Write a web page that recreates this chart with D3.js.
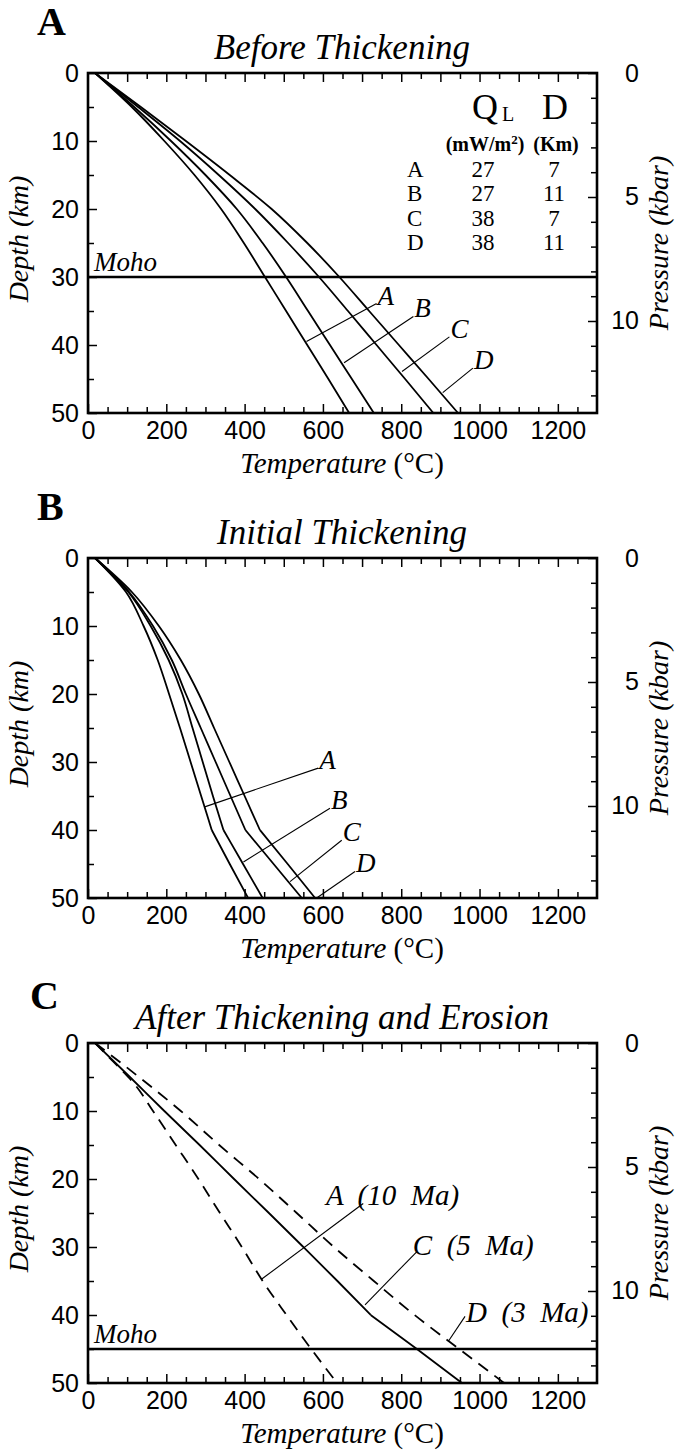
<!DOCTYPE html>
<html><head><meta charset="utf-8">
<script src="https://cdn.jsdelivr.net/npm/d3@7"></script>
<style>body{margin:0;background:#fff}svg{display:block}</style>
</head><body>
<svg id="chart" width="677" height="1452"></svg>
<script>
// ---------- DATA ----------
const depthStd = [0,5,10,15,20,25,30,35,40,45,50];
// Panel A: Before Thickening (Temperature °C at each depth)
const beforeA = [18,112,195,272,340,398,452,506,560,614,667];
const beforeB = [18,118,212,300,380,446,506,562,618,674,730];
const beforeC = [18,128,235,334,427,511,590,664,737,810,882];
const beforeD = [18,135,250,362,469,560,642,718,794,870,945];
// Panel B: Initial Thickening
const initA = [18,97,142,178,207,235,262,289,316,362,409];
const initB = [18,103,160,206,241,267,293,319,346,396,446];
const initC = [18,105,166,214,250,288,326,364,402,474,546];
const initD = [18,112,181,237,283,322,361,400,439,510,580];
// Panel C: After Thickening and Erosion
const erosionSolidC = [18,107,195,285,373,462,550,637,722,840,955];
const erosionDepthA = [0,2,4,6,10,15,20,25,30,35,40,45,50];
const erosionDashA  = [18,52,86,118,166,224,282,337,393,446,507,570,636];
const erosionDepthD = [0,3,5,10,15,20,25,30,35,40,45,50];
const erosionDashD  = [18,86,130,237,335,437,533,628,730,834,948,1063];
// Axis ticks
const tempTicks = [0,200,400,600,800,1000,1200];
const depthTicks = [0,10,20,30,40,50];
const pressTicks = [0,5,10];
// Legend table (panel A)
const legendRows = ["A","B","C","D"];
const legendQ = ["27","27","38","38"];
const legendD = ["7","11","7","11"];
// Leader lines [T1,d1,T2,d2] and labels
const leadersA = [[558,39.5,737,33.9,"A"],[654,42.6,831,35.8,"B"],[802,43.9,923,38.8,"C"],[906,47,983,43.4,"D"]];
const leadersB = [[298,36.6,588,30.9,"A"],[397,44.7,618,36.8,"B"],[516,47.6,648,41.5,"C"],[584,50,682,46.1,"D"]];
const leadersC = [[443,34.75,703,23.6,605,23.7,"A  (10  Ma)"],[707.5,38.5,839.5,30.7,827,31.0,"C  (5  Ma)"],[920,43.9,963,40.2,963,40.9,"D  (3  Ma)"]];

// ---------- DRAW ----------
const svg = d3.select("#chart");
const serif = "'Liberation Serif','Times New Roman',serif";
const sans = "'Liberation Sans',Arial,Helvetica,sans-serif";
const x = d3.scaleLinear().domain([0,1300]).range([88,597]);
const H = 340;
const KM_PER_KBAR = 3.647;
const fmt = d3.format("d");

function panel(top, letter, title, curves, opts){
  const g = svg.append("g");
  const y = d3.scaleLinear().domain([0,50]).range([top, top+H]);
  const p = d3.scaleLinear().domain([0,50/KM_PER_KBAR]).range([top, top+H]);

  const tickStyle = sel => { sel.select(".domain").remove(); sel.selectAll("line").attr("stroke","#000").attr("stroke-width",1.5); };
  const lab = s => s.selectAll("text").attr("font-family",sans).attr("font-size",25).attr("fill","#000");
  // bottom
  g.append("g").attr("transform",`translate(0,${top+H})`)
    .call(d3.axisBottom(x).tickValues(d3.range(50,1300,50).filter(v=>v%200!==0)).tickSize(-6).tickFormat(""))
    .call(tickStyle);
  g.append("g").attr("transform",`translate(0,${top+H})`)
    .call(d3.axisBottom(x).tickValues(tempTicks).tickSize(-9).tickPadding(8).tickFormat(fmt))
    .call(tickStyle).call(lab);
  // top
  g.append("g").attr("transform",`translate(0,${top})`)
    .call(d3.axisTop(x).tickValues(d3.range(50,1300,50)).tickSize(0).tickFormat(""))
    .call(tickStyle)
    .call(s=>s.selectAll(".tick line").attr("y2",d=>d%100===0?9:6));
  // left
  g.append("g").attr("transform",`translate(${x(0)},0)`)
    .call(d3.axisLeft(y).tickValues(d3.range(5,50,10)).tickSize(-6).tickFormat(""))
    .call(tickStyle);
  g.append("g").attr("transform",`translate(${x(0)},0)`)
    .call(d3.axisLeft(y).tickValues(depthTicks).tickSize(-9).tickPadding(9).tickFormat(fmt))
    .call(tickStyle).call(lab);
  // right
  g.append("g").attr("transform",`translate(${x(1300)},0)`)
    .call(d3.axisRight(p).tickValues(d3.range(1,14).filter(v=>v%5!==0)).tickSize(-6).tickFormat(""))
    .call(tickStyle);
  g.append("g").attr("transform",`translate(${x(1300)},0)`)
    .call(d3.axisRight(p).tickValues(pressTicks).tickSize(-9).tickPadding(42).tickFormat(fmt))
    .call(tickStyle).call(lab)
    .call(s=>s.selectAll("text").attr("text-anchor","end"));

  // frame
  g.append("rect").attr("x",x(0)).attr("y",top).attr("width",x(1300)-x(0)).attr("height",H)
    .attr("fill","none").attr("stroke","#000").attr("stroke-width",2.6);

  // curves
  const smooth = d3.line().x(d=>x(d[0])).y(d=>y(d[1])).curve(d3.curveMonotoneY);
  const straight = d3.line().x(d=>x(d[0])).y(d=>y(d[1]));
  curves.forEach(c=>{
    const pts = c.depth.map((d,i)=>[c.temp[i],d]);
    let segs = [pts];
    if(c.kink!==undefined){
      const k = c.depth.indexOf(c.kink);
      segs = [pts.slice(0,k+1), pts.slice(k)];
    }
    segs.forEach(sg=>{
      g.append("path").attr("d", (sg.length>2?smooth:straight)(sg))
        .attr("fill","none").attr("stroke","#000").attr("stroke-width",1.8)
        .attr("stroke-dasharray", c.dash?"12,8":null);
    });
  });

  // Moho
  if(opts.moho!==undefined){
    g.append("line").attr("x1",x(0)).attr("x2",x(1300)).attr("y1",y(opts.moho)).attr("y2",y(opts.moho))
      .attr("stroke","#000").attr("stroke-width",2.6);
    g.append("text").attr("x",x(0)+6).attr("y",y(opts.moho)-6).text("Moho")
      .attr("font-family",serif).attr("font-style","italic").attr("font-size",27);
  }

  // leaders
  opts.leaders.forEach(L=>{
    g.append("line").attr("x1",x(L[0])).attr("y1",y(L[1])).attr("x2",x(L[2])).attr("y2",y(L[3]))
      .attr("stroke","#000").attr("stroke-width",1.1);
    const lx = L.length>5?L[4]:L[2], ly = L.length>5?L[5]:L[3], txt = L[L.length-1];
    g.append("text").attr("x",x(lx)+1).attr("y",y(ly)+1).text(txt)
      .attr("font-family",serif).attr("font-style","italic").attr("font-size",opts.labelSize||27)
      .style("white-space","pre");
  });

  // titles & axis labels
  g.append("text").attr("x",opts.letterX||37).attr("y",top-38+(opts.letterDy||0)).text(letter)
    .attr("font-family",serif).attr("font-weight","bold").attr("font-size",40);
  g.append("text").attr("x",342).attr("y",top-14).attr("text-anchor","middle").text(title)
    .attr("font-family",serif).attr("font-style","italic").attr("font-size",35);
  const tl = g.append("text").attr("x",342).attr("y",top+H+60).attr("text-anchor","middle")
    .attr("font-family",serif).attr("font-size",29);
  tl.append("tspan").attr("font-style","italic").text("Temperature ");
  tl.append("tspan").text("(°C)");
  g.append("text").attr("transform",`translate(28,${top+H/2-4}) rotate(-90)`).attr("text-anchor","middle")
    .text("Depth (km)").attr("font-family",serif).attr("font-style","italic").attr("font-size",28);
  g.append("text").attr("transform",`translate(668,${top+H/2}) rotate(-90)`).attr("text-anchor","middle")
    .text("Pressure (kbar)").attr("font-family",serif).attr("font-style","italic").attr("font-size",28);
  return g;
}

// Panel A
const gA = panel(73, "A", "Before Thickening", [
  {depth:depthStd,temp:beforeA},{depth:depthStd,temp:beforeB},
  {depth:depthStd,temp:beforeC},{depth:depthStd,temp:beforeD}], {moho:30, leaders:leadersA});
// legend
const leg = gA.append("g").attr("font-family",serif).attr("fill","#000");
leg.append("text").attr("x",485).attr("y",119).attr("text-anchor","middle").attr("font-size",36).text("Q");
leg.append("text").attr("x",502).attr("y",121).attr("font-size",20).text("L");
leg.append("text").attr("x",555).attr("y",119).attr("text-anchor","middle").attr("font-size",36).text("D");
const mw = leg.append("text").attr("x",485).attr("y",151).attr("text-anchor","middle").attr("font-size",20).attr("font-weight","bold");
mw.append("tspan").text("(mW/m");
mw.append("tspan").attr("dy",-7).attr("font-size",13).text("2");
mw.append("tspan").attr("dy",7).text(")");
leg.append("text").attr("x",556).attr("y",151).attr("text-anchor","middle").attr("font-size",20).attr("font-weight","bold").text("(Km)");
legendRows.forEach((r,i)=>{
  const yy = 177 + i*24.4;
  leg.append("text").attr("x",407).attr("y",yy).attr("font-size",23).text(r);
  leg.append("text").attr("x",483).attr("y",yy).attr("text-anchor","middle").attr("font-size",23).text(legendQ[i]);
  leg.append("text").attr("x",554).attr("y",yy).attr("text-anchor","middle").attr("font-size",23).text(legendD[i]);
});

// Panel B
panel(558, "B", "Initial Thickening", [
  {depth:depthStd,temp:initA,kink:40},{depth:depthStd,temp:initB,kink:40},
  {depth:depthStd,temp:initC,kink:40},{depth:depthStd,temp:initD,kink:40}], {leaders:leadersB});

// Panel C
panel(1043, "C", "After Thickening and Erosion", [
  {depth:depthStd,temp:erosionSolidC,kink:40},
  {depth:erosionDepthA,temp:erosionDashA,dash:true},
  {depth:erosionDepthD,temp:erosionDashD,dash:true}], {moho:45, leaders:leadersC, labelSize:29, letterX:30, letterDy:4});
</script>
</body></html>
